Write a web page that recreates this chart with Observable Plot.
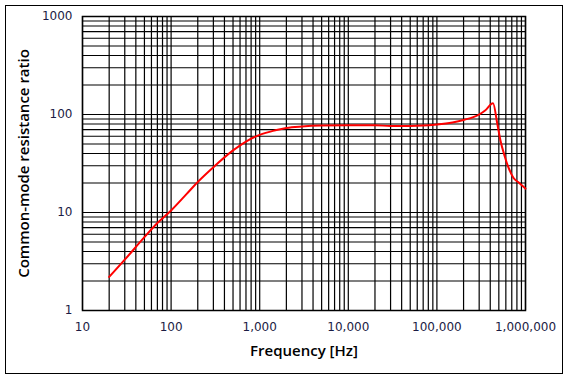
<!DOCTYPE html>
<html>
<head>
<meta charset="utf-8">
<script src="https://cdn.jsdelivr.net/npm/d3@7"></script>
<script src="https://cdn.jsdelivr.net/npm/@observablehq/plot@0.6"></script>
<style>
  body { margin: 0; background: #fff; }
  #wrap { position: relative; width: 569px; height: 380px; }
  #border { position: absolute; left: 5px; top: 5px; width: 556px; height: 367px; border: 1.5px solid #000; pointer-events: none; }
</style>
</head>
<body>
<div id="wrap"><div id="border"></div></div>
<script>
// Data
const freq = [20, 30, 50, 70, 100, 150, 200, 300, 500, 700, 1000, 1500, 2000, 3000, 5000, 10000, 20000, 30000, 50000, 70000, 100000, 150000, 200000, 300000, 350000, 430000, 480000, 520000, 580000, 640000, 730000, 850000, 1000000];
const ratio = [2.2, 3.3, 5.6, 7.8, 10.5, 15.5, 20.5, 29, 43, 53, 62, 69, 73, 75.5, 77, 77.5, 77.5, 76.5, 76.5, 77, 79, 83, 88, 100, 110, 130, 81, 55, 38, 29, 22.6, 20, 17.5];
const xTicks = [10, 100, 1000, 10000, 100000, 1000000];
const yTicks = [1, 10, 100, 1000];
const xLabel = "Frequency [Hz]";
const yLabel = "Common-mode resistance ratio";

const data = freq.map((f, i) => ({f, r: ratio[i]}));
const minor = (ticks) => ticks.slice(0, -1).flatMap(t => d3.range(1, 10).map(k => t * k)).concat(ticks.slice(-1));
const xGrid = minor(xTicks);
const yGrid = minor(yTicks);

const chart = Plot.plot({
  width: 569,
  height: 380,
  marginLeft: 82,
  marginRight: 44,
  marginTop: 16,
  marginBottom: 70,
  style: {background: "transparent", overflow: "visible"},
  x: {type: "log", domain: [10, 1000000]},
  y: {type: "log", domain: [1, 1000]},
  marks: [
    Plot.ruleX(xGrid, {stroke: "#000", strokeWidth: 1.2}),
    Plot.ruleY(yGrid, {stroke: "#000", strokeWidth: 1.2}),
    Plot.frame({stroke: "#000", strokeWidth: 1.5}),
    Plot.line(data, {x: "f", y: "r", stroke: "#ff0000", strokeWidth: 2, curve: "monotone-x"}),
    Plot.axisX(xTicks, {tickSize: 0, tickPadding: 12, tickFormat: d3.format(","), label: null,
      fontSize: 12, fontFamily: "DejaVu Sans", fill: "#1c1c44"}),
    Plot.axisY(yTicks, {tickSize: 0, tickPadding: 10, tickFormat: d => String(d), label: null,
      fontSize: 12, fontFamily: "DejaVu Sans", fill: "#1c1c44"}),
    Plot.text([xLabel], {frameAnchor: "bottom", dy: 45, textAnchor: "middle", fill: "#000", fontSize: 15, fontWeight: 600, fontFamily: "Open Sans"}),
    Plot.text([yLabel], {frameAnchor: "left", dx: -58, textAnchor: "middle", rotate: -90, fill: "#000", fontSize: 15, fontWeight: 600, fontFamily: "Open Sans"})
  ]
});
document.getElementById("wrap").prepend(chart);
</script>
</body>
</html>
